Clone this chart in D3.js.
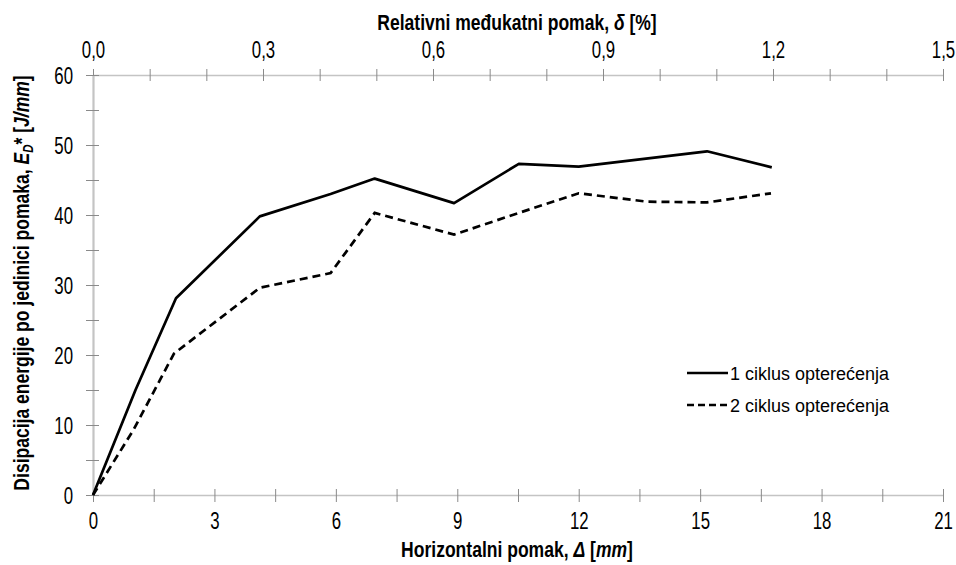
<!DOCTYPE html>
<html>
<head>
<meta charset="utf-8">
<script src="https://cdn.jsdelivr.net/npm/d3@7"></script>
<style>
  body { margin: 0; background: #fff; }
  svg { display: block; }
  text { font-family: "Liberation Sans", Arial, sans-serif; fill: #000; }
</style>
</head>
<body>
<svg id="chart" width="956" height="565"></svg>
<script>
// ---- data ----
const series1Name = "1 ciklus opterećenja";
const series2Name = "2 ciklus opterećenja";
const dispX1 = [0, 1.05, 2.05, 4.12, 5.87, 6.96, 8.92, 10.52, 12.0, 15.17, 16.77];
const energy1 = [0, 15.0, 28.1, 39.8, 43.0, 45.2, 41.7, 47.3, 46.9, 49.1, 46.8];
const dispX2 = [0, 1.0, 2.0, 4.12, 5.87, 6.96, 8.92, 10.52, 12.0, 13.69, 15.17, 16.75];
const energy2 = [0, 9.3, 20.2, 29.6, 31.7, 40.3, 37.2, 40.3, 43.1, 41.9, 41.8, 43.1];
const xTicks = d3.range(0, 21.001, 1.5);
const topTicks = d3.range(0, 1.5001, 0.1);
const yTicks = d3.range(0, 60.001, 5);

const svg = d3.select("#chart");
const mLeft = 93, mRight = 943, mTop = 75, mBottom = 495;
const tickScale = "scale(0.73,1)";
const titleScale = "scale(0.815,1)";

const x = d3.scaleLinear().domain([0, 21]).range([mLeft, mRight]);
const xTop = d3.scaleLinear().domain([0, 1.5]).range([mLeft, mRight]);
const y = d3.scaleLinear().domain([0, 60]).range([mBottom, mTop]);

const isMult = (v, m) => Math.abs(v / m - Math.round(v / m)) < 1e-6;

function styleAxis(g, orient) {
  g.select(".domain").attr("stroke", "#c4c4c4").attr("stroke-width", orient === "left" ? 2.2 : 1.6);
  g.selectAll(".tick line").attr("stroke", "#8a8a8a").attr("stroke-width", 1);
  g.selectAll(".tick text").attr("font-size", "23px").attr("fill", "#000")
    .attr("font-family", "'Liberation Sans', Arial, sans-serif");
}

// bottom axis
const gx = svg.append("g").attr("transform", `translate(0,${mBottom})`)
  .call(d3.axisBottom(x).tickValues(xTicks).tickSize(0).tickPadding(0)
    .tickFormat(d => isMult(d, 3) ? d3.format("d")(d) : ""));
gx.selectAll(".tick line").attr("y1", -6).attr("y2", 7);
gx.selectAll(".tick text").attr("x", 0).attr("y", 0).attr("dy", 0)
  .attr("transform", `translate(0,34) ${tickScale}`);
styleAxis(gx, "bottom");

// top axis
const gt = svg.append("g").attr("transform", `translate(0,${mTop})`)
  .call(d3.axisTop(xTop).tickValues(topTicks).tickSize(0).tickPadding(0)
    .tickFormat(d => isMult(d, 0.3) ? d3.format(".1f")(d).replace(".", ",") : ""));
gt.selectAll(".tick line").attr("y1", -6).attr("y2", 6);
gt.selectAll(".tick text").attr("x", 0).attr("y", 0).attr("dy", 0)
  .attr("transform", `translate(0,-17) ${tickScale}`);
styleAxis(gt, "top");

// left axis
const gy = svg.append("g").attr("transform", `translate(${mLeft},0)`)
  .call(d3.axisLeft(y).tickValues(yTicks).tickSize(0).tickPadding(0)
    .tickFormat(d => isMult(d, 10) ? d3.format("d")(d) : ""));
gy.selectAll(".tick line").attr("x1", -7).attr("x2", 6);
gy.selectAll(".tick text").attr("x", 0).attr("y", 0).attr("dy", "0.36em")
  .attr("transform", `translate(-20,0) ${tickScale}`);
styleAxis(gy, "left");

// lines
const line = d3.line().x(d => x(d[0])).y(d => y(d[1]));
const d1 = dispX1.map((v, i) => [v, energy1[i]]);
const d2 = dispX2.map((v, i) => [v, energy2[i]]);
svg.append("path").datum(d1).attr("d", line).attr("fill", "none")
  .attr("stroke", "#000").attr("stroke-width", 2.7).attr("stroke-linejoin", "round");
svg.append("path").datum(d2).attr("d", line).attr("fill", "none")
  .attr("stroke", "#000").attr("stroke-width", 2.7).attr("stroke-dasharray", "8,5");

// legend
const lg = svg.append("g");
const legendItems = [
  { name: series1Name, dash: null, yy: 373 },
  { name: series2Name, dash: "7,4", yy: 405 }
];
legendItems.forEach(it => {
  lg.append("line").attr("x1", 687).attr("x2", 728).attr("y1", it.yy).attr("y2", it.yy)
    .attr("stroke", "#000").attr("stroke-width", 2.7).attr("stroke-dasharray", it.dash);
  lg.append("text").attr("x", 730).attr("y", it.yy + 7)
    .attr("font-size", "18px").text(it.name);
});

// titles
const bt = svg.append("text").attr("transform", `translate(517,557) ${titleScale}`)
  .attr("text-anchor", "middle").attr("font-size", "21.5px").attr("font-weight", "bold");
bt.append("tspan").text("Horizontalni pomak, ");
bt.append("tspan").attr("font-style", "italic").text("Δ");
bt.append("tspan").text(" [");
bt.append("tspan").attr("font-style", "italic").text("mm");
bt.append("tspan").text("]");

const tt = svg.append("text").attr("transform", `translate(517,30) ${titleScale}`)
  .attr("text-anchor", "middle").attr("font-size", "21.5px").attr("font-weight", "bold");
tt.append("tspan").text("Relativni međukatni pomak, ");
tt.append("tspan").attr("font-style", "italic").text("δ");
tt.append("tspan").text(" [%]");

const yt = svg.append("text").attr("transform", `translate(29,283) rotate(-90) ${titleScale}`)
  .attr("text-anchor", "middle").attr("font-size", "21.5px").attr("font-weight", "bold");
yt.append("tspan").text("Disipacija energije po jedinici pomaka, ");
yt.append("tspan").attr("font-style", "italic").text("E");
yt.append("tspan").attr("font-style", "italic").attr("font-size", "14px").attr("dy", 4).text("D");
yt.append("tspan").attr("dy", -4).text("* [");
yt.append("tspan").attr("font-style", "italic").text("J/mm");
yt.append("tspan").text("]");
</script>
</body>
</html>
